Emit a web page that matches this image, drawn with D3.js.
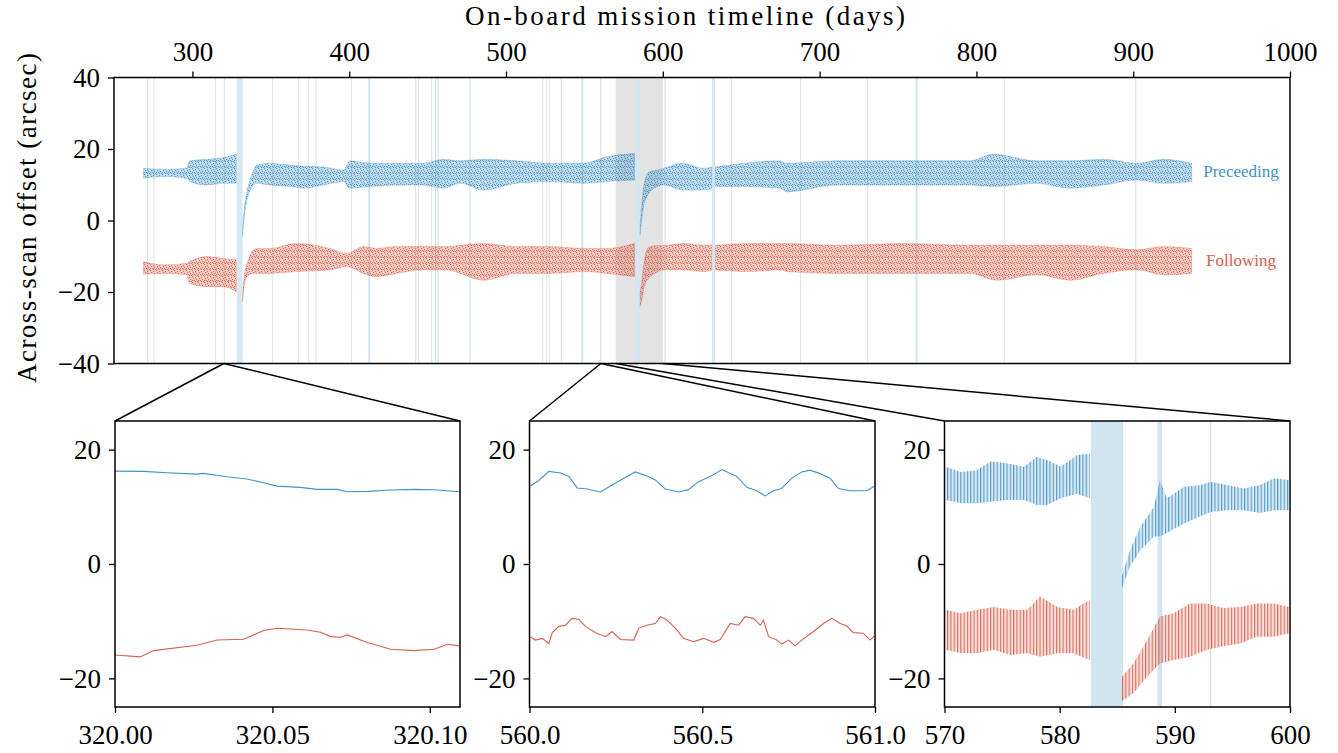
<!DOCTYPE html>
<html>
<head>
<meta charset="utf-8">
<script src="https://cdn.jsdelivr.net/npm/d3@7"></script>
<style>
body { margin: 0; background: #fff; }
svg text { font-family: "Liberation Serif", "DejaVu Serif", serif; }
</style>
</head>
<body>
<svg id="chart" width="1338" height="753"></svg>
<script>
// ---- data ----
// top panel: [day, lower edge, upper edge] of the scatter band, null = data gap
var precBand = [
  [268.7, 11.8, 14.6], [281.5, 12.3, 14.3], [296.3, 11.8, 14.6], [298.4, 10.9, 16.7],
  [309.0, 9.9, 17.1], [319.7, 10.4, 17.6], [328.0, 10.4, 18.5], null,
  [332.0, -4.4, -2.8], [333.0, 0.5, 3.0], [334.5, 5.0, 7.5], [336.5, 8.0, 11.0],
  [339.0, 10.0, 14.0], [341.0, 10.4, 15.5], [349.5, 9.9, 16.0], [362.3, 9.5, 15.5],
  [370.8, 9.0, 15.2], [383.5, 9.9, 15.0], [396.3, 10.9, 14.1], [400.5, 9.0, 16.7],
  [413.3, 9.5, 16.0], [430.3, 9.9, 16.0], [447.3, 9.9, 16.0], [460.1, 9.0, 17.1],
  [470.7, 10.4, 16.7], [485.6, 8.5, 17.1], [506.8, 10.4, 16.7], [528.1, 10.9, 16.0],
  [549.3, 10.4, 16.0], [564.2, 10.9, 17.8], [582.0, 11.3, 18.8], null,
  [585.5, -4.0, -1.5], [586.5, 0.0, 4.0], [588.0, 4.5, 10.0], [591.0, 7.5, 13.5],
  [596.1, 9.4, 14.1], [600.4, 9.9, 14.6], [613.1, 8.5, 16.0], [625.9, 8.5, 14.6],
  [631.2, 9.0, 15.0], null,
  [633.5, 9.5, 15.0], [651.4, 9.5, 16.0], [674.8, 9.0, 16.7], [679.0, 8.0, 16.0],
  [710.9, 9.9, 16.7], [753.4, 9.9, 16.7], [795.9, 9.9, 16.7], [810.8, 9.5, 18.5],
  [838.5, 10.4, 16.7], [859.7, 9.0, 16.7], [881.0, 9.9, 17.1], [902.3, 11.3, 16.0],
  [919.3, 10.4, 17.1], [937.3, 10.9, 16.0]
];
var follBand = [
  [268.7, -15.0, -11.5], [281.5, -14.8, -12.4], [296.3, -15.2, -12.0], [298.4, -17.6, -11.5],
  [309.0, -18.5, -10.1], [319.7, -18.5, -10.6], [328.0, -19.9, -11.0], null,
  [332.0, -22.8, -21.0], [333.0, -18.5, -15.5], [334.5, -16.0, -12.5], [337.0, -15.0, -9.5],
  [341.0, -14.8, -7.8], [349.5, -14.8, -7.8], [366.5, -14.3, -6.4], [387.8, -13.8, -7.8],
  [398.4, -12.9, -9.2], [409.0, -14.8, -7.3], [417.5, -15.7, -7.8], [430.3, -14.8, -7.3],
  [447.3, -13.8, -7.3], [462.2, -13.8, -7.3], [470.7, -14.8, -6.9], [485.6, -16.7, -6.4],
  [506.8, -14.8, -7.3], [528.1, -14.8, -7.3], [549.3, -14.3, -7.8], [564.2, -14.8, -7.8],
  [582.0, -15.7, -6.4], null,
  [585.5, -24.0, -19.7], [586.5, -22.6, -17.4], [587.6, -19.7, -13.3], [589.0, -17.4, -9.2],
  [591.0, -16.2, -7.5], [596.1, -14.5, -7.0], [600.4, -13.8, -7.0], [613.1, -13.8, -6.4],
  [625.9, -14.3, -6.9], [631.2, -13.8, -6.9], null,
  [633.5, -13.8, -6.9], [655.6, -14.3, -6.4], [674.8, -13.8, -6.4], [679.0, -14.3, -6.4],
  [710.9, -14.8, -6.9], [753.4, -14.8, -6.4], [795.9, -14.8, -6.9], [812.9, -16.7, -6.9],
  [838.5, -15.2, -6.9], [859.7, -16.7, -6.9], [881.0, -14.8, -7.3], [902.3, -13.8, -8.2],
  [919.3, -15.2, -7.3], [937.3, -14.8, -7.8]
];

// events marked in the timeline
var greyLines = [275.5, 314.8, 351.2, 367.6, 374.1, 378.8, 401.5, 442.4, 444.3, 452.6,
  523.4, 525.9, 527.6, 535.3, 593.1, 643.9, 687.9, 730.6, 817.8];
var blueLines = [271.5, 412.8, 455.1, 456.6, 477.0, 548.7, 601.4, 761.9, 901.6];
var blueBands = [[328.3, 332.0], [582.7, 585.5], [631.4, 633.3], [588.5, 588.9]];

// zoomed intervals
var zoomDomains = [[320.0, 320.1096], [560.0, 561.0], [570.0, 600.0]];
var zoomTicks = [[320.00, 320.05, 320.10], [560.0, 560.5, 561.0], [570, 580, 590, 600]];
var zoomFormats = [".2f", ".1f", "d"];

// panel 1: [day, offset]
var z1Prec = [
  [320.0000, 16.24], [320.0090, 16.19], [320.0165, 15.95], [320.0260, 15.72], [320.0281, 15.84],
  [320.0356, 15.25], [320.0419, 14.85], [320.0472, 14.21], [320.0515, 13.62], [320.0589, 13.39],
  [320.0642, 13.04], [320.0706, 13.04], [320.0738, 12.64], [320.0801, 12.69], [320.0876, 12.93],
  [320.0950, 13.04], [320.1014, 12.98], [320.1093, 12.64]
];
var z1Foll = [
  [320.0000, -15.90], [320.0080, -16.24], [320.0122, -15.14], [320.0260, -14.21], [320.0324, -13.28],
  [320.0409, -13.16], [320.0472, -11.64], [320.0515, -11.24], [320.0610, -11.53], [320.0653, -11.94],
  [320.0685, -12.69], [320.0717, -12.81], [320.0738, -12.40], [320.0801, -13.74], [320.0876, -14.91],
  [320.0950, -15.14], [320.1014, -14.91], [320.1056, -14.03], [320.1093, -14.32]
];
// panel 2
var z2Prec = [
  [560.001, 13.6], [560.027, 14.6], [560.056, 16.2], [560.090, 15.9], [560.114, 15.3],
  [560.138, 13.3], [560.167, 13.1], [560.205, 12.6], [560.239, 13.8], [560.273, 15.0],
  [560.306, 16.1], [560.340, 15.4], [560.364, 14.7], [560.393, 13.1], [560.432, 12.6],
  [560.460, 13.0], [560.489, 14.4], [560.523, 15.3], [560.557, 16.5], [560.600, 15.3],
  [560.629, 13.4], [560.658, 12.8], [560.682, 11.9], [560.706, 12.8], [560.730, 13.2],
  [560.759, 15.0], [560.788, 16.1], [560.812, 16.4], [560.841, 15.8], [560.870, 15.0],
  [560.894, 13.2], [560.928, 12.8], [560.976, 12.8], [560.998, 13.6]
];
var z2Foll = [
  [560.001, -12.7], [560.017, -13.3], [560.037, -13.0], [560.056, -13.9], [560.066, -12.0],
  [560.085, -10.9], [560.104, -10.7], [560.123, -9.5], [560.143, -9.7], [560.162, -10.9],
  [560.191, -12.0], [560.220, -12.7], [560.239, -11.8], [560.263, -13.2], [560.302, -13.3],
  [560.316, -11.2], [560.340, -10.7], [560.364, -10.4], [560.379, -9.2], [560.398, -9.8],
  [560.422, -11.2], [560.446, -13.0], [560.475, -13.6], [560.504, -13.0], [560.533, -13.7],
  [560.552, -13.2], [560.581, -10.4], [560.605, -10.7], [560.624, -9.2], [560.648, -9.5],
  [560.668, -10.7], [560.677, -9.8], [560.692, -12.7], [560.716, -13.3], [560.730, -14.0],
  [560.750, -13.3], [560.769, -14.3], [560.788, -13.3], [560.822, -11.8], [560.851, -10.4],
  [560.875, -9.5], [560.899, -10.4], [560.918, -10.8], [560.937, -12.0], [560.966, -12.1],
  [560.986, -13.3], [560.998, -12.6]
];
// panel 3: [day, lower, upper] of the streaky scatter
var z3Prec = [
  [570.1, 11.2, 17.0], [571.4, 10.6, 16.1], [572.8, 10.6, 16.4], [574.0, 10.9, 17.9],
  [575.4, 11.2, 17.6], [576.9, 11.2, 17.0], [578.0, 10.3, 18.7], [578.9, 10.3, 18.2],
  [580.1, 11.5, 17.0], [581.5, 12.3, 19.0], [582.6, 11.5, 19.3], null,
  [585.4, -4.3, -2.2], [586.1, -0.5, 2.4], [587.0, 2.4, 6.5], [588.2, 4.8, 10.0],
  [588.7, 4.8, 14.7], [589.3, 5.4, 11.5], [590.8, 7.1, 13.5], [592.2, 8.3, 13.8],
  [593.1, 9.1, 14.4], [594.5, 9.4, 13.8], [596.0, 9.4, 13.2], [597.4, 8.9, 13.8],
  [598.6, 9.4, 15.0], [599.9, 9.4, 14.7]
];
var z3Foll = [
  [570.1, -15.0, -8.0], [571.4, -15.6, -8.6], [572.8, -15.6, -8.0], [574.3, -15.0, -7.5],
  [575.7, -15.9, -8.0], [577.2, -15.6, -8.0], [578.3, -16.2, -5.7], [579.8, -15.6, -7.5],
  [581.2, -15.6, -8.0], [582.6, -16.8, -6.3], null,
  [585.4, -24.0, -19.7], [586.4, -22.6, -17.4], [587.6, -19.7, -13.3], [588.7, -17.4, -9.2],
  [589.9, -16.8, -8.6], [591.3, -16.2, -6.9], [592.8, -15.0, -6.9], [594.2, -14.4, -7.7],
  [595.7, -13.9, -7.5], [597.1, -12.7, -6.9], [598.6, -12.7, -6.9], [599.9, -12.1, -7.5]
];

// ---- drawing ----
var blueCol = "#4393c3", redCol = "#d6604d";
var bandCol = "#d1e5f0", lineGrey = "#e2e2e2";
var fs = 27;

var svg = d3.select("#chart");
var defs = svg.append("defs");

// vertical streaks for the zoomed scatter
function stripes(id, col) {
  var p = defs.append("pattern").attr("id", id).attr("patternUnits", "userSpaceOnUse")
    .attr("width", 3.3).attr("height", 6);
  p.append("rect").attr("width", 3.3).attr("height", 6).attr("fill", col).attr("fill-opacity", 0.2);
  p.append("rect").attr("width", 1.1).attr("height", 6).attr("fill", col).attr("fill-opacity", 0.9);
}
stripes("stripeB", blueCol);
stripes("stripeR", redCol);

// speckle texture for the dense scatter bands
var speck = [[0, 0], [3, 1], [1, 2], [4, 3], [2, 4], [5, 5], [0, 4], [3, 5]];
function speckle(id, col) {
  var p = defs.append("pattern").attr("id", id).attr("patternUnits", "userSpaceOnUse")
    .attr("width", 6).attr("height", 6);
  p.append("rect").attr("width", 6).attr("height", 6).attr("fill", col).attr("fill-opacity", 0.3);
  p.selectAll(".s").data(speck).enter().append("rect")
    .attr("x", function(d) { return d[0]; }).attr("y", function(d) { return d[1]; })
    .attr("width", 1.2).attr("height", 1.2).attr("fill", col).attr("fill-opacity", 0.85);
}
speckle("speckB", blueCol);
speckle("speckR", redCol);

var box = {left: 114, right: 1290, top: 77.5, bottom: 363.5};
var x = d3.scaleLinear().domain([250, 1000]).range([box.left, box.right]);
var y = d3.scaleLinear().domain([-40, 40]).range([box.bottom, box.top]);

defs.append("clipPath").attr("id", "clipTop").append("rect")
  .attr("x", box.left).attr("y", box.top).attr("width", box.right - box.left).attr("height", box.bottom - box.top);

var gTop = svg.append("g").attr("clip-path", "url(#clipTop)");

// zoom indicators in the timeline
gTop.selectAll(".zone").data(zoomDomains).enter().append("rect")
  .attr("x", function(d) { return x(d[0]); })
  .attr("width", function(d) { return Math.max(1.2, x(d[1]) - x(d[0])); })
  .attr("y", box.top).attr("height", box.bottom - box.top)
  .attr("fill", "#d9d9d9").attr("fill-opacity", 0.75);

gTop.selectAll(".gl").data(greyLines).enter().append("line")
  .attr("x1", x).attr("x2", x).attr("y1", box.top).attr("y2", box.bottom)
  .attr("stroke", lineGrey).attr("stroke-width", 1);
gTop.selectAll(".bl").data(blueLines).enter().append("line")
  .attr("x1", x).attr("x2", x).attr("y1", box.top).attr("y2", box.bottom)
  .attr("stroke", bandCol).attr("stroke-width", function(d, i) { return (i == 1 || i == 5 || i == 7) ? 2 : 1.2; });
gTop.selectAll(".bb").data(blueBands).enter().append("rect")
  .attr("x", function(d) { return x(d[0]); })
  .attr("width", function(d) { return Math.max(1.2, x(d[1]) - x(d[0])); })
  .attr("y", box.top).attr("height", box.bottom - box.top)
  .attr("fill", bandCol).attr("fill-opacity", 0.9);

var band = d3.area()
  .defined(function(d) { return d != null; })
  .x(function(d) { return x(d[0]); })
  .y0(function(d) { return y(d[1]); })
  .y1(function(d) { return y(d[2]); })
  .curve(d3.curveMonotoneX);

gTop.append("path").attr("d", band(precBand)).attr("fill", "url(#speckB)")
  .attr("stroke", blueCol).attr("stroke-opacity", 0.35).attr("stroke-width", 0.8);
gTop.append("path").attr("d", band(follBand)).attr("fill", "url(#speckR)")
  .attr("stroke", redCol).attr("stroke-opacity", 0.35).attr("stroke-width", 0.8);

svg.append("text").attr("x", 1241).attr("y", y(13.6)).attr("dy", "0.32em")
  .attr("text-anchor", "middle").attr("font-size", 17).attr("fill", blueCol).text("Preceeding");
svg.append("text").attr("x", 1241).attr("y", y(-11.2)).attr("dy", "0.32em")
  .attr("text-anchor", "middle").attr("font-size", 17).attr("fill", redCol).text("Following");

// frame + axes
svg.append("rect").attr("x", box.left).attr("y", box.top)
  .attr("width", box.right - box.left).attr("height", box.bottom - box.top)
  .attr("fill", "none").attr("stroke", "#000").attr("stroke-width", 1.5);

function styleAxis(g) {
  g.select(".domain").remove();
  g.selectAll(".tick line").attr("stroke", "#000").attr("stroke-width", 1.3);
  g.selectAll(".tick text").attr("font-size", fs).attr("fill", "#000")
    .style("font-family", "'Liberation Serif', serif");
}

svg.append("g").attr("transform", "translate(0," + box.top + ")")
  .call(d3.axisTop(x).tickValues([300, 400, 500, 600, 700, 800, 900, 1000]).tickFormat(d3.format("d")).tickSize(6).tickPadding(11))
  .call(styleAxis);
svg.append("g").attr("transform", "translate(" + box.left + ",0)")
  .call(d3.axisLeft(y).tickValues([-40, -20, 0, 20, 40]).tickSize(6).tickPadding(8))
  .call(styleAxis);

svg.append("text").attr("x", (box.left + box.right) / 2 - 17).attr("y", 25)
  .attr("text-anchor", "middle").attr("font-size", fs)
  .attr("textLength", 440).attr("lengthAdjust", "spacing")
  .text("On-board mission timeline (days)");
svg.append("text").attr("transform", "translate(36,218) rotate(-90)")
  .attr("text-anchor", "middle").attr("font-size", fs)
  .attr("textLength", 330).attr("lengthAdjust", "spacing")
  .text("Across-scan offset (arcsec)");

// bottom zoom panels
var panels = [{left: 115, right: 460}, {left: 529.5, right: 875}, {left: 944.5, right: 1290}];
var pTop = 421, pBottom = 707;
var yz = d3.scaleLinear().domain([-25, 25]).range([pBottom, pTop]);

panels.forEach(function(p, i) {
  var xz = d3.scaleLinear().domain(zoomDomains[i]).range([p.left, p.right]);
  var cid = "clipZ" + i;
  defs.append("clipPath").attr("id", cid).append("rect")
    .attr("x", p.left).attr("y", pTop).attr("width", p.right - p.left).attr("height", pBottom - pTop);
  var g = svg.append("g").attr("clip-path", "url(#" + cid + ")");

  if (i == 2) {
    g.selectAll(".bb").data(blueBands).enter().append("rect")
      .attr("x", function(d) { return xz(d[0]); })
      .attr("width", function(d) { return Math.max(1, xz(d[1]) - xz(d[0])); })
      .attr("y", pTop).attr("height", pBottom - pTop).attr("fill", bandCol);
    g.selectAll(".gl").data(greyLines).enter().append("line")
      .attr("x1", xz).attr("x2", xz).attr("y1", pTop).attr("y2", pBottom)
      .attr("stroke", lineGrey).attr("stroke-width", 1.2);
    var bandZ = d3.area()
      .defined(function(d) { return d != null; })
      .x(function(d) { return xz(d[0]); })
      .y0(function(d) { return yz(d[1]); })
      .y1(function(d) { return yz(d[2]); });
    g.append("path").attr("d", bandZ(z3Prec)).attr("fill", "url(#stripeB)");
    g.append("path").attr("d", bandZ(z3Foll)).attr("fill", "url(#stripeR)");
  } else {
    var ln = d3.line().x(function(d) { return xz(d[0]); }).y(function(d) { return yz(d[1]); });
    var pr = i == 0 ? z1Prec : z2Prec, fo = i == 0 ? z1Foll : z2Foll;
    g.append("path").attr("d", ln(pr)).attr("fill", "none").attr("stroke", blueCol).attr("stroke-width", 1.1);
    g.append("path").attr("d", ln(fo)).attr("fill", "none").attr("stroke", redCol).attr("stroke-width", 1.1);
  }

  svg.append("rect").attr("x", p.left).attr("y", pTop)
    .attr("width", p.right - p.left).attr("height", pBottom - pTop)
    .attr("fill", "none").attr("stroke", "#000").attr("stroke-width", 1.5);
  svg.append("g").attr("transform", "translate(0," + pBottom + ")")
    .call(d3.axisBottom(xz).tickValues(zoomTicks[i]).tickFormat(d3.format(zoomFormats[i])).tickSize(6).tickPadding(12))
    .call(styleAxis);
  svg.append("g").attr("transform", "translate(" + p.left + ",0)")
    .call(d3.axisLeft(yz).tickValues([-20, 0, 20]).tickSize(6).tickPadding(8))
    .call(styleAxis);

  // connectors from the timeline to the panel
  var d = zoomDomains[i];
  var from = i == 2 ? [x(d[0]), x(d[1])] : [x((d[0] + d[1]) / 2), x((d[0] + d[1]) / 2)];
  svg.append("line").attr("x1", from[0]).attr("y1", box.bottom).attr("x2", p.left).attr("y2", pTop)
    .attr("stroke", "#000").attr("stroke-width", 1.5);
  svg.append("line").attr("x1", from[1]).attr("y1", box.bottom).attr("x2", p.right).attr("y2", pTop)
    .attr("stroke", "#000").attr("stroke-width", 1.5);
});
</script>
</body>
</html>
